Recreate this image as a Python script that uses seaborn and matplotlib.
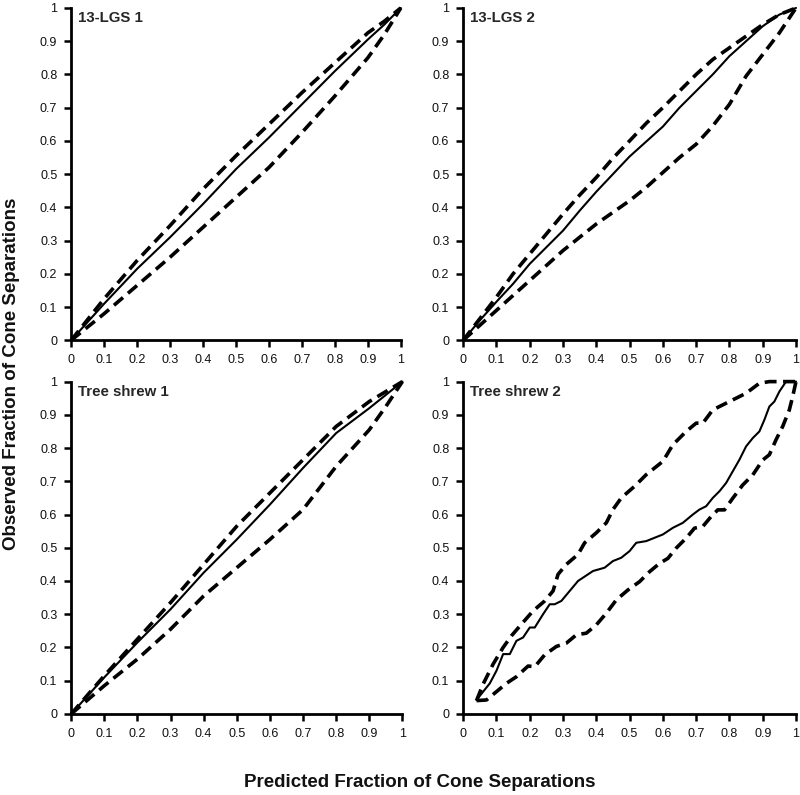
import matplotlib
matplotlib.use("Agg")
import matplotlib.pyplot as plt
import seaborn as sns

# 13-LGS 1
lgs1_x = [0, 0.1, 0.2, 0.3, 0.4, 0.5, 0.6, 0.7, 0.8, 0.9, 0.95, 1]
lgs1_mid = [0, 0.11, 0.215, 0.31, 0.41, 0.515, 0.61, 0.71, 0.81, 0.905, 0.95, 1]
lgs1_hi = [0, 0.125, 0.24, 0.345, 0.455, 0.555, 0.65, 0.745, 0.835, 0.925, 0.96, 1]
lgs1_lo = [0, 0.08, 0.165, 0.25, 0.34, 0.43, 0.52, 0.625, 0.735, 0.85, 0.92, 1]

# 13-LGS 2
lgs2_x = [0, 0.05, 0.1, 0.15, 0.2, 0.25, 0.3, 0.35, 0.4, 0.45, 0.5, 0.55, 0.6,
          0.65, 0.7, 0.75, 0.8, 0.85, 0.9, 0.95, 1]
lgs2_mid = [0, 0.06, 0.116, 0.17, 0.23, 0.28, 0.33, 0.39, 0.447, 0.5, 0.553,
            0.598, 0.643, 0.7, 0.75, 0.8, 0.855, 0.9, 0.945, 0.98, 1]
lgs2_hi = [0, 0.065, 0.13, 0.2, 0.26, 0.32, 0.38, 0.437, 0.49, 0.548, 0.6,
           0.653, 0.7, 0.75, 0.8, 0.845, 0.88, 0.915, 0.95, 0.98, 1]
lgs2_lo = [0, 0.045, 0.09, 0.135, 0.18, 0.225, 0.27, 0.31, 0.35, 0.385, 0.42,
           0.46, 0.505, 0.55, 0.59, 0.645, 0.71, 0.795, 0.86, 0.925, 1]

# Tree shrew 1
ts1_x = [0, 0.1, 0.2, 0.3, 0.4, 0.5, 0.6, 0.7, 0.8, 0.9, 0.95, 1]
ts1_mid = [0, 0.11, 0.215, 0.315, 0.425, 0.525, 0.63, 0.74, 0.845, 0.92, 0.96, 1]
ts1_hi = [0, 0.115, 0.225, 0.335, 0.45, 0.565, 0.665, 0.765, 0.865, 0.94, 0.97, 1]
ts1_lo = [0, 0.085, 0.165, 0.255, 0.355, 0.44, 0.525, 0.615, 0.745, 0.855, 0.925, 1]

# Tree shrew 2
ts2_mid_x = [0.04, 0.08, 0.10, 0.12, 0.14, 0.16, 0.18, 0.20, 0.215, 0.24, 0.26,
             0.275, 0.295, 0.32, 0.345, 0.36, 0.39, 0.425, 0.45, 0.475, 0.50,
             0.52, 0.55, 0.575, 0.60, 0.63, 0.66, 0.69, 0.71, 0.73, 0.75, 0.77,
             0.79, 0.81, 0.83, 0.85, 0.87, 0.89, 0.905, 0.92, 0.935, 0.95, 0.97, 1.0]
ts2_mid = [0.042, 0.092, 0.13, 0.18, 0.18, 0.22, 0.23, 0.26, 0.26, 0.30, 0.33,
           0.33, 0.34, 0.37, 0.40, 0.41, 0.43, 0.44, 0.46, 0.47, 0.49,
           0.515, 0.52, 0.53, 0.54, 0.56, 0.575, 0.60, 0.615, 0.625, 0.65, 0.67,
           0.695, 0.73, 0.765, 0.805, 0.83, 0.85, 0.885, 0.925, 0.94, 0.97, 1.0, 1.0]
ts2_hi_x = [0.04, 0.06, 0.09, 0.12, 0.145, 0.175, 0.21, 0.245, 0.27, 0.285, 0.31,
            0.345, 0.365, 0.40, 0.43, 0.45, 0.475, 0.515, 0.55, 0.60, 0.63, 0.67,
            0.70, 0.72, 0.75, 0.79, 0.82, 0.85, 0.89, 0.92, 1.0]
ts2_hi = [0.04, 0.09, 0.15, 0.20, 0.235, 0.27, 0.31, 0.34, 0.37, 0.42, 0.45,
          0.48, 0.515, 0.545, 0.575, 0.615, 0.65, 0.685, 0.72, 0.76, 0.81, 0.85,
          0.875, 0.875, 0.915, 0.935, 0.95, 0.965, 0.995, 1.0, 1.0]
ts2_lo_x = [0.04, 0.07, 0.10, 0.13, 0.16, 0.195, 0.215, 0.245, 0.28, 0.31, 0.34,
            0.37, 0.40, 0.43, 0.46, 0.495, 0.53, 0.56, 0.59, 0.615, 0.64, 0.67,
            0.695, 0.72, 0.745, 0.765, 0.785, 0.81, 0.84, 0.87, 0.90, 0.92, 0.94,
            0.96, 0.98, 0.99, 1.0]
ts2_lo = [0.04, 0.042, 0.067, 0.092, 0.112, 0.144, 0.142, 0.178, 0.203, 0.213,
          0.238, 0.243, 0.268, 0.303, 0.343, 0.373, 0.398, 0.428, 0.453, 0.468,
          0.499, 0.529, 0.559, 0.564, 0.594, 0.614, 0.614, 0.649, 0.689, 0.719,
          0.764, 0.78, 0.825, 0.865, 0.915, 0.955, 1.0]

panels = [
    ("13-LGS 1", (lgs1_x, lgs1_mid), (lgs1_x, lgs1_hi), (lgs1_x, lgs1_lo)),
    ("13-LGS 2", (lgs2_x, lgs2_mid), (lgs2_x, lgs2_hi), (lgs2_x, lgs2_lo)),
    ("Tree shrew 1", (ts1_x, ts1_mid), (ts1_x, ts1_hi), (ts1_x, ts1_lo)),
    ("Tree shrew 2", (ts2_mid_x, ts2_mid), (ts2_hi_x, ts2_hi), (ts2_lo_x, ts2_lo)),
]

ticks = [0, 0.1, 0.2, 0.3, 0.4, 0.5, 0.6, 0.7, 0.8, 0.9, 1]
tick_labels = ["0", "0.1", "0.2", "0.3", "0.4", "0.5", "0.6", "0.7", "0.8", "0.9", "1"]

sns.set_style("ticks")
plt.rcParams['font.family'] = ['Liberation Sans', 'DejaVu Sans']

fig = plt.figure(figsize=(8, 7.95), dpi=100)
positions = [
    [0.089, 0.572, 0.412, 0.418],
    [0.579, 0.572, 0.416, 0.418],
    [0.089, 0.102, 0.414, 0.418],
    [0.579, 0.102, 0.416, 0.418],
]

for pos, (name, mid, hi, lo) in zip(positions, panels):
    ax = fig.add_axes(pos)
    sns.lineplot(x=mid[0], y=mid[1], ax=ax, color="black", lw=1.5,
                 sort=False, estimator=None)
    for xs, ys in (hi, lo):
        sns.lineplot(x=xs, y=ys, ax=ax, color="black", lw=2.6,
                     linestyle=(0, (3.3, 1.8)), sort=False, estimator=None)
    for line in ax.get_lines():
        line.set_clip_on(False)
    ax.set_xlim(0, 1)
    ax.set_ylim(0, 1)
    ax.set_xticks(ticks)
    ax.set_xticklabels(tick_labels)
    ax.set_yticks(ticks)
    ax.set_yticklabels(tick_labels)
    ax.tick_params(direction="out", length=5, width=1.8, labelsize=9,
                   color="black", labelcolor="#111111", pad=5)
    sns.despine(ax=ax)
    for side in ("left", "bottom"):
        ax.spines[side].set_linewidth(2)
        ax.spines[side].set_color("black")
    ax.text(0.02, 0.99, name, transform=ax.transAxes, ha="left", va="top",
            fontsize=10.8, fontweight="bold")

fig.text(0.014, 0.53, "Observed Fraction of Cone Separations", rotation=90,
         ha="center", va="center", fontsize=13.5, fontweight="bold", color="#111111")
fig.text(0.525, 0.0095, "Predicted Fraction of Cone Separations",
         ha="center", va="baseline", fontsize=13.5, fontweight="bold", color="#111111")

fig.savefig("out.png", dpi=100)
